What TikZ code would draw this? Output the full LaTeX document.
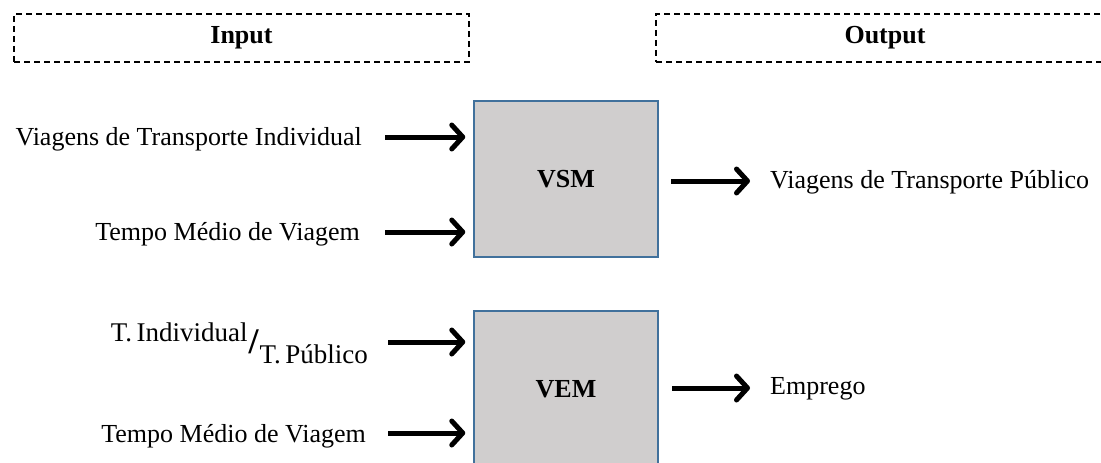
\documentclass[tikz,border=0pt]{standalone}
\usepackage{fontspec}
\setmainfont{Liberation Serif}
\usetikzlibrary{arrows.meta}
\definecolor{boxfill}{HTML}{D0CECE}
\definecolor{boxline}{HTML}{41719C}
\begin{document}
\begin{tikzpicture}[x=1pt,y=-1pt,
  hdr/.style={draw, dashed, line width=1.6pt, dash pattern=on 6pt off 4pt, minimum height=48pt, inner sep=0pt, font=\fontsize{26}{30}\selectfont\bfseries},
  model/.style={draw=boxline, fill=boxfill, line width=1.5pt, minimum width=184pt, minimum height=156pt, inner sep=0pt, font=\fontsize{26}{30}\selectfont\bfseries},
  lbl/.style={inner sep=0pt, font=\fontsize{26}{30}\selectfont},
  arr/.style={line width=5pt, shorten >=8pt, -{Straight Barb[length=11pt,width=24pt,line join=round,line cap=round]}}
]
\useasboundingbox (0,0) rectangle (1101,463);
\node[hdr, minimum width=455pt] (inp) at (241.5,38) {Input};
\node[hdr, minimum width=458pt] (outp) at (885,38) {Output};

\node[model] (vsm) at (566,179) {VSM};
\node[model] (vem) at (566,389) {VEM};

\coordinate (a1) at (385,137);
\coordinate (a2) at (385,232);
\coordinate (a3) at (388,342);
\coordinate (a4) at (388,433);
\coordinate (o1) at (671,181);
\coordinate (o2) at (672,388);

\node[lbl, anchor=east] (t1) at (362,139) {Viagens de Transporte Individual};
\node[lbl, anchor=east] (t2) at (360,234) {Tempo Médio de Viagem};
\node[lbl, anchor=east] (t3) at (368,343) {\fontsize{27}{30}\selectfont\raisebox{0.4em}{T.\,Individual}\kern1pt\raisebox{-0.05em}{\fontsize{36}{36}\selectfont\bfseries/}\kern1pt\raisebox{-0.42em}{T.\,Público}};
\node[lbl, anchor=east] (t4) at (366,436) {Tempo Médio de Viagem};
\node[lbl, anchor=west] (r1) at (770,182) {Viagens de Transporte Público};
\node[lbl, anchor=west] (r2) at (770,389) {Emprego};

\draw[arr] (a1) -- (a1 -| vsm.west);
\draw[arr] (a2) -- (a2 -| vsm.west);
\draw[arr] (a3) -- (a3 -| vem.west);
\draw[arr] (a4) -- (a4 -| vem.west);
\draw[arr] (o1) -- ([xshift=-12pt]o1 -| r1.west);
\draw[arr] (o2) -- ([xshift=-12pt]o2 -| r2.west);
\end{tikzpicture}
\end{document}
